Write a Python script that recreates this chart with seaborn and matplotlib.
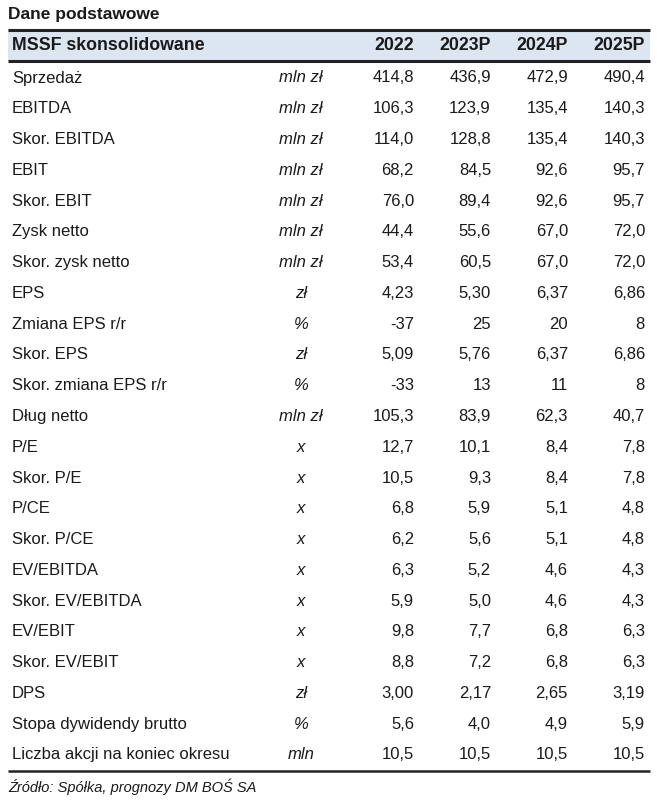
import matplotlib
matplotlib.use("Agg")
import matplotlib.pyplot as plt
import seaborn as sns
import pandas as pd

# dane tabeli
title = "Dane podstawowe"
header = "MSSF skonsolidowane"
years = ["2022", "2023P", "2024P", "2025P"]
labels = ["Sprzedaż", "EBITDA", "Skor. EBITDA", "EBIT", "Skor. EBIT", "Zysk netto",
          "Skor. zysk netto", "EPS", "Zmiana EPS r/r", "Skor. EPS", "Skor. zmiana EPS r/r",
          "Dług netto", "P/E", "Skor. P/E", "P/CE", "Skor. P/CE", "EV/EBITDA",
          "Skor. EV/EBITDA", "EV/EBIT", "Skor. EV/EBIT", "DPS", "Stopa dywidendy brutto",
          "Liczba akcji na koniec okresu"]
units = ["mln zł", "mln zł", "mln zł", "mln zł", "mln zł", "mln zł", "mln zł", "zł", "%",
         "zł", "%", "mln zł", "x", "x", "x", "x", "x", "x", "x", "x", "zł", "%", "mln"]
v2022 = ["414,8", "106,3", "114,0", "68,2", "76,0", "44,4", "53,4", "4,23", "-37", "5,09",
         "-33", "105,3", "12,7", "10,5", "6,8", "6,2", "6,3", "5,9", "9,8", "8,8", "3,00",
         "5,6", "10,5"]
v2023 = ["436,9", "123,9", "128,8", "84,5", "89,4", "55,6", "60,5", "5,30", "25", "5,76",
         "13", "83,9", "10,1", "9,3", "5,9", "5,6", "5,2", "5,0", "7,7", "7,2", "2,17",
         "4,0", "10,5"]
v2024 = ["472,9", "135,4", "135,4", "92,6", "92,6", "67,0", "67,0", "6,37", "20", "6,37",
         "11", "62,3", "8,4", "8,4", "5,1", "5,1", "4,6", "4,6", "6,8", "6,8", "2,65",
         "4,9", "10,5"]
v2025 = ["490,4", "140,3", "140,3", "95,7", "95,7", "72,0", "72,0", "6,86", "8", "6,86",
         "8", "40,7", "7,8", "7,8", "4,8", "4,8", "4,3", "4,3", "6,3", "6,3", "3,19",
         "5,9", "10,5"]
source = "Źródło: Spółka, prognozy DM BOŚ SA"

df = pd.DataFrame({"label": labels, "unit": units,
                   years[0]: v2022, years[1]: v2023, years[2]: v2024, years[3]: v2025})

sns.set_theme(style="white")
plt.rcParams['font.family'] = ['Liberation Sans', 'DejaVu Sans']

fig = plt.figure(figsize=(6.57, 8), dpi=100)
ax = fig.add_axes([0, 0, 1, 1])
ax.set_xlim(0, 657)
ax.set_ylim(800, 0)
ax.axis("off")

txt = "#1a1a1a"
fs = 12
left, right = 8, 650
col_x = [414, 491, 568, 645]
unit_x = 301

ax.text(left, 15, title, fontsize=12.5, fontweight="bold", color=txt, va="center", ha="left")

# pasek nagłówka
ax.fill_between([left, right], 30, 61, color="#dce6f1", lw=0)
ax.plot([left, right], [30, 30], color="#222222", lw=2.2, solid_capstyle="butt")
ax.plot([left, right], [61, 61], color="#222222", lw=2.2, solid_capstyle="butt")
ax.text(12, 46, header, fontsize=12.8, fontweight="bold", color=txt, va="center", ha="left")
for x, y in zip(col_x, years):
    ax.text(x, 46, y, fontsize=12.8, fontweight="bold", color=txt, va="center", ha="right")

y0, dy = 78, 30.77
for i, row in df.iterrows():
    y = y0 + i * dy
    ax.text(12, y, row["label"], fontsize=fs, color=txt, va="center", ha="left")
    ax.text(unit_x, y, row["unit"], fontsize=fs, color=txt, va="center", ha="center",
            style="italic")
    for x, yr in zip(col_x, years):
        ax.text(x, y, row[yr], fontsize=fs, color=txt, va="center", ha="right")

ax.plot([left, right], [771, 771], color="#222222", lw=1.8, solid_capstyle="butt")
ax.text(left, 787, source, fontsize=10.5, color=txt, va="center", ha="left", style="italic")

fig.savefig("out.png", dpi=100)
